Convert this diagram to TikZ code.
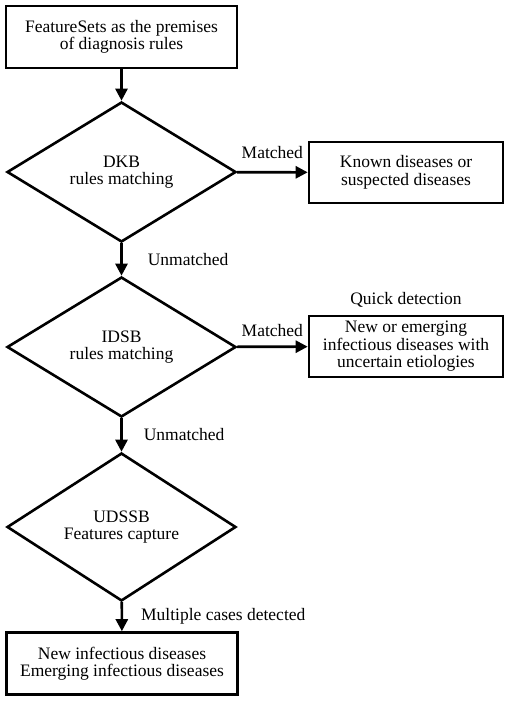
\documentclass[tikz,border=0pt]{standalone}
\usepackage{fontspec}
\setmainfont{Liberation Serif}
\usetikzlibrary{shapes.geometric, arrows.meta}

\begin{document}
\begin{tikzpicture}[x=1pt, y=-1pt]
    \tikzstyle{every node} = [font=\fontsize{17.5}{17.5}\selectfont, align=center]
    \tikzstyle{cutie}  = [draw, line width=2.6pt, inner sep=0pt, minimum width=231pt, minimum height=62pt]
    \tikzstyle{romb}   = [draw, diamond, line width=2.6pt, inner sep=0pt, minimum width=229pt, minimum height=140pt]
    \tikzstyle{rezultat} = [cutie, minimum width=194pt, minimum height=61pt]
    \tikzstyle{sageata} = [line width=2.6pt, -{Triangle[length=12pt, width=12pt]}]
    \tikzstyle{eticheta} = [inner sep=0pt]

    \useasboundingbox (0,0) rectangle (510,701);

    \node[cutie] (premise) at (121.5,37) {FeatureSets as the premises\\of diagnosis rules};
    \node[romb] (dkb) at (121.5,172) {DKB\\rules matching};
    \node[rezultat] (known) at (406,172.5) {Known diseases or\\suspected diseases};
    \node[romb] (idsb) at (121.5,347) {IDSB\\rules matching};
    \node[rezultat] (emerging) at (406,346.5) {New or emerging\\infectious diseases with\\uncertain etiologies};
    \node[eticheta] (quick) at (406,300) {Quick detection};
    \node[romb] (udssb) at (121.5,527) {UDSSB\\Features capture};
    \node[cutie] (newdis) at (122,663.5) {New infectious diseases\\Emerging infectious diseases};

    \draw[sageata] (premise) -- (dkb);
    \draw[sageata] (dkb) -- node[eticheta, above=12pt] {Matched} (known);
    \draw[sageata] (dkb) -- node[eticheta, anchor=west, xshift=25pt] {Unmatched} (idsb);
    \draw[sageata] (idsb) -- node[eticheta, above=9pt] {Matched} (emerging);
    \draw[sageata] (idsb) -- node[eticheta, anchor=west, xshift=21pt] {Unmatched} (udssb);
    \draw[sageata] (udssb) -- node[eticheta, anchor=west, xshift=18pt] {Multiple cases detected} (newdis);
\end{tikzpicture}
\end{document}
